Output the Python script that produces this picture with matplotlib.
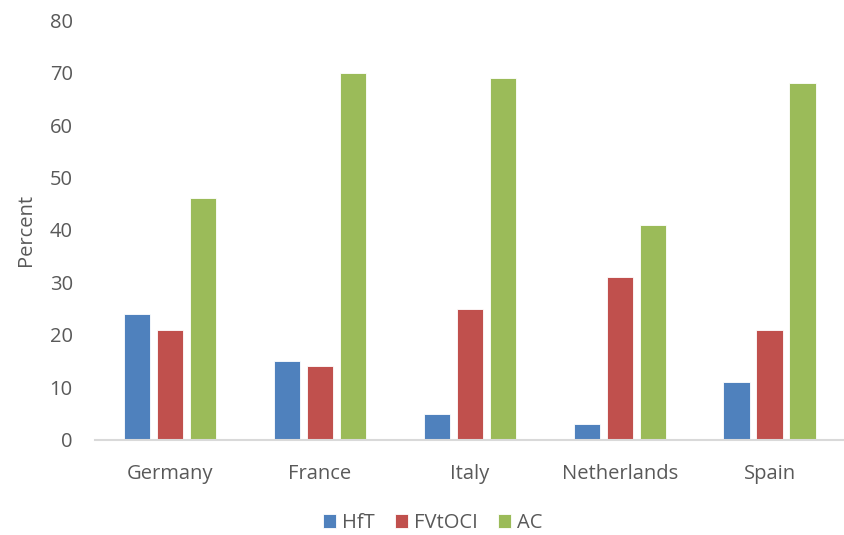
import numpy as np
import matplotlib.pyplot as plt

countries = ["Germany", "France", "Italy", "Netherlands", "Spain"]
hft = [24, 15, 5, 3, 11]
fvtoci = [21, 14, 25, 31, 21]
ac = [46, 70, 69, 41, 68]

series_names = ["HfT", "FVtOCI", "AC"]
colors = ["#4F81BD", "#C0504D", "#9BBB59"]

plt.rcParams["font.family"] = ["Open Sans", "DejaVu Sans"]
text_col = "#595959"

fig = plt.figure(figsize=(8.45, 5.35), dpi=100)
ax = fig.add_axes([0.1124, 0.1776, 0.887, 0.785])

x = np.arange(len(countries))
width = 0.175
step = 0.22
for i, (vals, name, col) in enumerate(zip([hft, fvtoci, ac], series_names, colors)):
    ax.bar(x + (i - 1) * step, vals, width, color=col, label=name,
           edgecolor="white", linewidth=0.6)

ax.set_xlim(-0.5, len(countries) - 0.5)
ax.set_ylim(0, 80)
ax.set_yticks(range(0, 81, 10))
ax.set_xticks(x)
ax.set_xticklabels(countries)
ax.tick_params(axis="both", length=0, labelsize=14.5, colors=text_col)
ax.tick_params(axis="x", pad=17)
ax.tick_params(axis="y", pad=16)
ax.set_ylabel("Percent", fontsize=14.5, color=text_col, labelpad=10)

for s in ["top", "right", "left"]:
    ax.spines[s].set_visible(False)
ax.spines["bottom"].set_color("#D9D9D9")
ax.spines["bottom"].set_linewidth(1.5)

leg = fig.legend(loc="lower center", bbox_to_anchor=(0.512, -0.03), ncol=3,
                 frameon=False, fontsize=14.5, handlelength=0.65, handleheight=0.65,
                 handletextpad=0.3, columnspacing=1.0)
for t in leg.get_texts():
    t.set_color(text_col)

fig.savefig("out.png", dpi=100)
